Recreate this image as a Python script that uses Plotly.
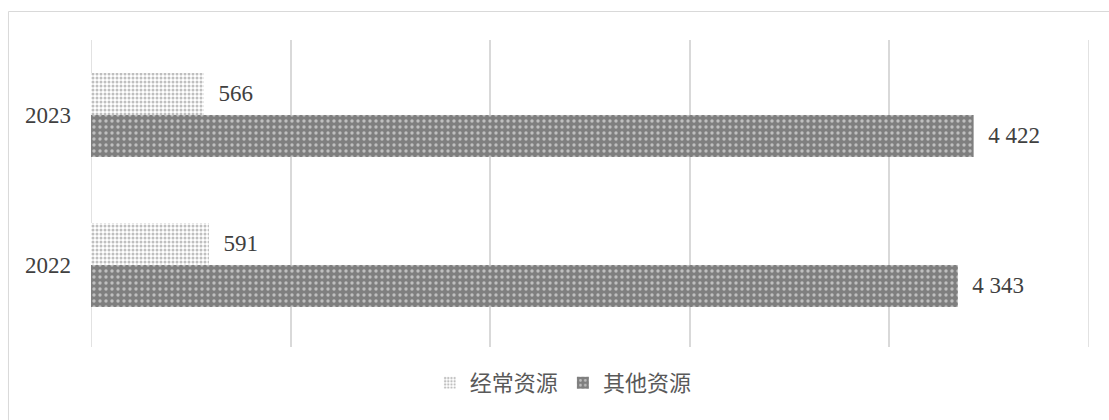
import plotly.graph_objects as go

years = ["2022", "2023"]
regular = [591, 566]
other = [4343, 4422]
names = ["经常资源", "其他资源"]
x_ticks = [0, 1000, 2000, 3000, 4000, 5000]
x_max = 5000

label_font = dict(family="Liberation Serif", size=23, color="#404040")

fig = go.Figure()
fig.add_trace(go.Bar(
    y=years, x=other, orientation="h", name=names[1], legendrank=2,
    marker=dict(color="#7f7f7f", line=dict(width=0),
                pattern=dict(shape=".", bgcolor="#7f7f7f", fgcolor="white",
                             size=6, solidity=0.25)),
    texttemplate="\u00a0\u00a0%{x:,}", textposition="outside",
    textfont=label_font, cliponaxis=False,
))
fig.add_trace(go.Bar(
    y=years, x=regular, orientation="h", name=names[0], legendrank=1,
    marker=dict(color="#7f7f7f", line=dict(width=0),
                pattern=dict(shape=".", bgcolor="white", fgcolor="#7f7f7f",
                             size=4, solidity=0.45)),
    texttemplate="\u00a0\u00a0%{x:,}", textposition="outside",
    textfont=label_font, cliponaxis=False,
))

grid_shapes = [dict(type="line", xref="x", yref="paper", x0=v, x1=v, y0=0, y1=1,
                    line=dict(color="#d9d9d9", width=1.5), layer="below")
               for v in (0, x_max)]

fig.update_layout(
    width=1109, height=420,
    margin=dict(l=91, r=20, t=40, b=73),
    paper_bgcolor="white", plot_bgcolor="white",
    barmode="group", bargap=0.44, bargroupgap=0,
    separators=". ",
    xaxis=dict(range=[0, x_max], tickvals=x_ticks, showticklabels=False,
               showgrid=True, gridcolor="#d9d9d9", gridwidth=1.5,
               zeroline=False, showline=False),
    yaxis=dict(type="category", categoryorder="array", categoryarray=years,
               range=[-0.547, 1.5], showgrid=False, zeroline=False, showline=False,
               ticks="", ticklabelstandoff=19,
               tickfont=dict(family="Liberation Serif", size=23, color="#404040")),
    legend=dict(orientation="h", xref="container", yref="container",
                x=0.508, xanchor="center", y=1 - 383 / 420, yanchor="middle",
                font=dict(family="Liberation Serif, Noto Sans CJK SC", size=22, color="#595959"),
                itemwidth=30),
    shapes=[dict(type="rect", xref="paper", yref="paper",
                 x0=-0.0827, x1=1.03, y0=-0.3, y1=1.0928,
                 line=dict(color="#d9d9d9", width=1), layer="below")] + grid_shapes,
    showlegend=True,
)

fig.write_html("out.html", config={"displayModeBar": False},
               post_script="document.body.style.margin='0';")
